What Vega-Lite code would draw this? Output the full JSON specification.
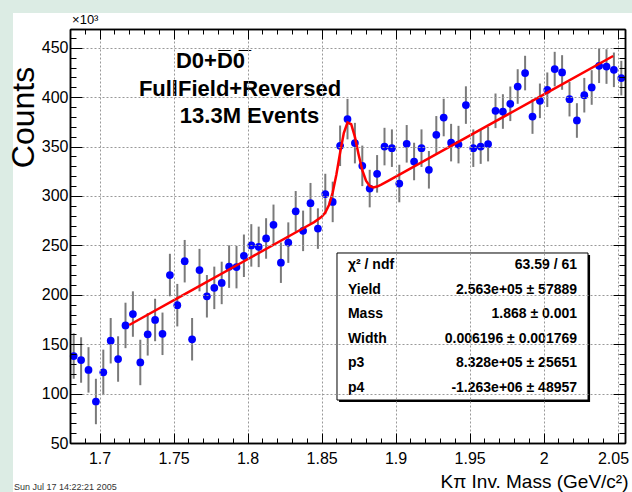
{
  "$schema": "https://vega.github.io/schema/vega-lite/v6.json",
  "width": 555,
  "height": 414,
  "autosize": {"type": "none"},
  "padding": {"left": 70, "top": 29, "right": 7, "bottom": 49},
  "background": "#dcece4",
  "config": {"font": "Liberation Sans", "view": {"stroke": null}},
  "resolve": {"axis": {"x": "independent", "y": "independent"}},
  "datasets": {
    "hist": [
      {"m":1.6825,"v":138,"lo":115,"hi":161},
      {"m":1.6875,"v":134,"lo":111,"hi":157},
      {"m":1.6925,"v":124,"lo":101,"hi":147},
      {"m":1.6975,"v":92,"lo":69,"hi":115},
      {"m":1.7025,"v":121.5,"lo":98.5,"hi":144.5},
      {"m":1.7075,"v":153.5,"lo":130.5,"hi":176.5},
      {"m":1.7125,"v":135,"lo":112,"hi":158},
      {"m":1.7175,"v":169,"lo":146,"hi":192},
      {"m":1.7225,"v":180.5,"lo":157.5,"hi":203.5},
      {"m":1.7275,"v":131.5,"lo":108.5,"hi":154.5},
      {"m":1.7325,"v":160,"lo":138.5,"hi":181.5},
      {"m":1.7375,"v":174.5,"lo":153,"hi":196},
      {"m":1.7425,"v":160.5,"lo":139,"hi":182},
      {"m":1.7475,"v":220,"lo":198.5,"hi":241.5},
      {"m":1.7525,"v":189.5,"lo":168,"hi":211},
      {"m":1.7575,"v":234,"lo":212.5,"hi":255.5},
      {"m":1.7625,"v":155,"lo":133.5,"hi":176.5},
      {"m":1.7675,"v":225,"lo":203.5,"hi":246.5},
      {"m":1.7725,"v":198.5,"lo":177,"hi":220},
      {"m":1.7775,"v":207,"lo":185.5,"hi":228.5},
      {"m":1.7825,"v":212,"lo":190.5,"hi":233.5},
      {"m":1.7875,"v":228.5,"lo":207,"hi":250},
      {"m":1.7925,"v":228,"lo":206.5,"hi":249.5},
      {"m":1.7975,"v":239.5,"lo":218,"hi":261},
      {"m":1.8025,"v":250,"lo":228.5,"hi":271.5},
      {"m":1.8075,"v":248.5,"lo":228,"hi":269},
      {"m":1.8125,"v":257,"lo":236.5,"hi":277.5},
      {"m":1.8175,"v":270.8,"lo":250.3,"hi":291.3},
      {"m":1.8225,"v":232.5,"lo":212,"hi":253},
      {"m":1.8275,"v":252.8,"lo":232.3,"hi":273.3},
      {"m":1.8325,"v":284.5,"lo":264,"hi":305},
      {"m":1.8375,"v":264.7,"lo":244.2,"hi":285.2},
      {"m":1.8425,"v":292.7,"lo":272.2,"hi":313.2},
      {"m":1.8475,"v":267,"lo":246.5,"hi":287.5},
      {"m":1.8525,"v":302,"lo":281.5,"hi":322.5},
      {"m":1.8575,"v":294,"lo":273.5,"hi":314.5},
      {"m":1.8625,"v":350.8,"lo":330.3,"hi":371.3},
      {"m":1.8675,"v":377.8,"lo":357.3,"hi":398.3},
      {"m":1.8725,"v":353.5,"lo":333,"hi":374},
      {"m":1.8775,"v":330.5,"lo":310,"hi":351},
      {"m":1.8825,"v":307.5,"lo":288.5,"hi":326.5},
      {"m":1.8875,"v":322.4,"lo":303.4,"hi":341.4},
      {"m":1.8925,"v":350,"lo":331,"hi":369},
      {"m":1.8975,"v":348.4,"lo":329.4,"hi":367.4},
      {"m":1.9025,"v":312.6,"lo":293.6,"hi":331.6},
      {"m":1.9075,"v":352.8,"lo":333.8,"hi":371.8},
      {"m":1.9125,"v":334.9,"lo":315.9,"hi":353.9},
      {"m":1.9175,"v":348.4,"lo":329.4,"hi":367.4},
      {"m":1.9225,"v":326.5,"lo":307.5,"hi":345.5},
      {"m":1.9275,"v":361.9,"lo":342.9,"hi":380.9},
      {"m":1.9325,"v":379.4,"lo":360.4,"hi":398.4},
      {"m":1.9375,"v":354,"lo":335,"hi":373},
      {"m":1.9425,"v":352,"lo":333,"hi":371},
      {"m":1.9475,"v":392,"lo":373,"hi":411},
      {"m":1.9525,"v":348.4,"lo":329.4,"hi":367.4},
      {"m":1.9575,"v":350,"lo":332.5,"hi":367.5},
      {"m":1.9625,"v":352.5,"lo":335,"hi":370},
      {"m":1.9675,"v":386.2,"lo":368.7,"hi":403.7},
      {"m":1.9725,"v":385.5,"lo":368,"hi":403},
      {"m":1.9775,"v":393.3,"lo":375.8,"hi":410.8},
      {"m":1.9825,"v":410.8,"lo":393.3,"hi":428.3},
      {"m":1.9875,"v":424.4,"lo":406.9,"hi":441.9},
      {"m":1.9925,"v":380.4,"lo":362.9,"hi":397.9},
      {"m":1.9975,"v":396.3,"lo":378.8,"hi":413.8},
      {"m":2.0025,"v":407.5,"lo":390,"hi":425},
      {"m":2.0075,"v":428.4,"lo":410.9,"hi":445.9},
      {"m":2.0125,"v":425,"lo":407.5,"hi":442.5},
      {"m":2.0175,"v":398,"lo":380.5,"hi":415.5},
      {"m":2.0225,"v":376.4,"lo":358.9,"hi":393.9},
      {"m":2.0275,"v":402,"lo":384.5,"hi":419.5},
      {"m":2.0325,"v":409.8,"lo":392.3,"hi":427.3},
      {"m":2.0375,"v":431.8,"lo":414.3,"hi":449.3},
      {"m":2.0425,"v":431,"lo":413.5,"hi":448.5},
      {"m":2.0475,"v":427.7,"lo":410.2,"hi":445.2},
      {"m":2.0525,"v":419.3,"lo":401.8,"hi":436.8}
    ],
    "fit": [
      {"m":1.72,"f":169.4},
      {"m":1.76,"f":202.7},
      {"m":1.80,"f":236.0},
      {"m":1.84,"f":269.4},
      {"m":1.845,"f":273.6},
      {"m":1.85,"f":278.9},
      {"m":1.8525,"f":283.3},
      {"m":1.855,"f":290.9},
      {"m":1.8575,"f":303.5},
      {"m":1.86,"f":321.8},
      {"m":1.8625,"f":343.7},
      {"m":1.865,"f":363.6},
      {"m":1.8675,"f":374.4},
      {"m":1.87,"f":372.6},
      {"m":1.8725,"f":359.8},
      {"m":1.875,"f":342.1},
      {"m":1.8775,"f":326.1},
      {"m":1.88,"f":315.4},
      {"m":1.8825,"f":310.1},
      {"m":1.885,"f":308.7},
      {"m":1.8875,"f":309.5},
      {"m":1.89,"f":311.2},
      {"m":1.895,"f":315.2},
      {"m":1.95,"f":361.0},
      {"m":2.0,"f":402.6},
      {"m":2.047,"f":441.7}
    ]
  },
  "layer": [
    {
      "data": {"values": [{}]},
      "mark": {"type": "rect", "fill": "white", "clip": false},
      "encoding": {
        "x": {"datum": 1.6415, "type": "quantitative",
          "scale": {"domain": [1.68, 2.055], "nice": false, "zero": false},
          "axis": {"orient": "bottom", "zindex": 1,
            "values": [1.7, 1.75, 1.8, 1.85, 1.9, 1.95, 2.0, 2.05],
            "format": ".2~f", "labelFlush": false,
            "tickSize": -10, "tickColor": "black", "tickWidth": 1,
            "labelPadding": 17, "labelFontSize": 16, "labelColor": "black", "labelFont": "Liberation Sans",
            "labelAlign": {"condition": {"test": "datum.value > 2.04", "value": "right"}, "value": "center"},
            "labelOffset": {"condition": {"test": "datum.value > 2.04", "value": 11}, "value": 0},
            "grid": true, "gridDash": [2, 2], "gridColor": "#999999", "gridWidth": 1,
            "domainColor": "black", "domainWidth": 1.5,
            "title": "K\u03c0 Inv. Mass (GeV/c\u00b2)", "titleFontSize": 19, "titleFontWeight": "normal",
            "titleColor": "black", "titleFont": "Liberation Sans",
            "titleAnchor": "end", "titleAlign": "right", "titleBaseline": "alphabetic",
            "titleX": 558, "titleY": 44}},
        "x2": {"datum": 2.0597},
        "y": {"datum": 485.2, "type": "quantitative",
          "scale": {"domain": [50, 469], "nice": false, "zero": false},
          "axis": {"orient": "left", "zindex": 1,
            "values": [50, 100, 150, 200, 250, 300, 350, 400, 450],
            "tickSize": -12, "tickColor": "black", "tickWidth": 1,
            "labelPadding": 14, "labelFontSize": 16, "labelColor": "black", "labelFont": "Liberation Sans",
            "grid": true, "gridDash": [2, 2], "gridColor": "#999999", "gridWidth": 1,
            "domainColor": "black", "domainWidth": 1.5,
            "title": "Counts", "titleFontSize": 32, "titleFontWeight": "normal",
            "titleColor": "black", "titleFont": "Liberation Sans",
            "titleAngle": -90, "titleAlign": "center", "titleBaseline": "alphabetic",
            "titleX": -37, "titleY": 88}},
        "y2": {"datum": 0.41}
      }
    },
    {
      "data": {"name": "hist"},
      "mark": {"type": "rule", "color": "#7a7a7a", "strokeWidth": 2},
      "encoding": {
        "x": {"field": "m", "type": "quantitative",
          "scale": {"domain": [1.68, 2.055], "nice": false, "zero": false},
          "axis": {"orient": "bottom", "zindex": 1,
            "values": [1.68,1.69,1.70,1.71,1.72,1.73,1.74,1.75,1.76,1.77,1.78,1.79,1.80,1.81,1.82,1.83,1.84,1.85,1.86,1.87,1.88,1.89,1.90,1.91,1.92,1.93,1.94,1.95,1.96,1.97,1.98,1.99,2.00,2.01,2.02,2.03,2.04,2.05],
            "tickSize": -5, "tickColor": "black", "labels": false, "grid": false,
            "domainColor": "black", "domainWidth": 1.5, "title": null}},
        "y": {"field": "lo", "type": "quantitative",
          "scale": {"domain": [50, 469], "nice": false, "zero": false},
          "axis": {"orient": "left", "zindex": 1,
            "values": [60,70,80,90,110,120,130,140,160,170,180,190,210,220,230,240,260,270,280,290,310,320,330,340,360,370,380,390,410,420,430,440,460],
            "tickSize": -6, "tickColor": "black", "labels": false, "grid": false,
            "domainColor": "black", "domainWidth": 1.5, "title": null}},
        "y2": {"field": "hi"}
      }
    },
    {
      "data": {"name": "hist"},
      "mark": {"type": "circle", "color": "#0000ff", "opacity": 1, "size": 60},
      "encoding": {
        "x": {"field": "m", "type": "quantitative",
          "scale": {"domain": [1.68, 2.055], "nice": false, "zero": false},
          "axis": {"orient": "top", "zindex": 1,
            "values": [1.7, 1.75, 1.8, 1.85, 1.9, 1.95, 2.0, 2.05],
            "tickSize": -10, "tickColor": "black", "labels": false, "grid": false,
            "domainColor": "black", "domainWidth": 1.5, "title": null}},
        "y": {"field": "v", "type": "quantitative",
          "scale": {"domain": [50, 469], "nice": false, "zero": false},
          "axis": {"orient": "right", "zindex": 1,
            "values": [50, 100, 150, 200, 250, 300, 350, 400, 450],
            "tickSize": -12, "tickColor": "black", "labels": false, "grid": false,
            "domainColor": "black", "domainWidth": 1.5, "title": null}}
      }
    },
    {
      "data": {"name": "fit"},
      "mark": {"type": "line", "color": "#ff0000", "strokeWidth": 2.5},
      "encoding": {
        "x": {"field": "m", "type": "quantitative",
          "scale": {"domain": [1.68, 2.055], "nice": false, "zero": false},
          "axis": {"orient": "top", "zindex": 1,
            "values": [1.68,1.69,1.70,1.71,1.72,1.73,1.74,1.75,1.76,1.77,1.78,1.79,1.80,1.81,1.82,1.83,1.84,1.85,1.86,1.87,1.88,1.89,1.90,1.91,1.92,1.93,1.94,1.95,1.96,1.97,1.98,1.99,2.00,2.01,2.02,2.03,2.04,2.05],
            "tickSize": -5, "tickColor": "black", "labels": false, "grid": false,
            "domainColor": "black", "domainWidth": 1.5, "title": null}},
        "y": {"field": "f", "type": "quantitative",
          "scale": {"domain": [50, 469], "nice": false, "zero": false},
          "axis": {"orient": "right", "zindex": 1,
            "values": [60,70,80,90,110,120,130,140,160,170,180,190,210,220,230,240,260,270,280,290,310,320,330,340,360,370,380,390,410,420,430,440,460],
            "tickSize": -6, "tickColor": "black", "labels": false, "grid": false,
            "domainColor": "black", "domainWidth": 1.5, "title": null}}
      }
    },
    {
      "data": {"values": [{}]},
      "mark": {"type": "rect", "fill": "black", "clip": false},
      "encoding": {
        "x": {"datum": 1.8618, "type": "quantitative", "scale": {"domain": [1.68, 2.055], "nice": false, "zero": false}, "axis": null},
        "x2": {"datum": 2.0314},
        "y": {"datum": 240.3, "type": "quantitative", "scale": {"domain": [50, 469], "nice": false, "zero": false}, "axis": null},
        "y2": {"datum": 91.5}
      }
    },
    {
      "data": {"values": [{}]},
      "mark": {"type": "rect", "fill": "white", "stroke": "black", "strokeWidth": 1, "clip": false},
      "encoding": {
        "x": {"datum": 1.8604, "type": "quantitative", "scale": {"domain": [1.68, 2.055], "nice": false, "zero": false}, "axis": null},
        "x2": {"datum": 2.03},
        "y": {"datum": 242.3, "type": "quantitative", "scale": {"domain": [50, 469], "nice": false, "zero": false}, "axis": null},
        "y2": {"datum": 93.5}
      }
    },
    {
      "data": {"values": [{}]},
      "mark": {"type": "text", "text": ["\u03c7\u00b2 / ndf", "Yield", "Mass", "Width", "p3", "p4"],
        "align": "left", "baseline": "middle", "lineHeight": 24.5,
        "font": "Liberation Sans", "fontSize": 14, "fontWeight": "bold", "color": "black"},
      "encoding": {
        "x": {"datum": 1.8678, "type": "quantitative", "scale": {"domain": [1.68, 2.055], "nice": false, "zero": false}, "axis": null},
        "y": {"datum": 229.8, "type": "quantitative", "scale": {"domain": [50, 469], "nice": false, "zero": false}, "axis": null}
      }
    },
    {
      "data": {"values": [{}]},
      "mark": {"type": "text", "text": ["63.59 / 61", "2.563e+05 \u00b1 57889", "1.868 \u00b1 0.001", "0.006196 \u00b1 0.001769", "8.328e+05 \u00b1 25651", "-1.263e+06 \u00b1 48957"],
        "align": "right", "baseline": "middle", "lineHeight": 24.5,
        "font": "Liberation Sans", "fontSize": 14, "fontWeight": "bold", "color": "black"},
      "encoding": {
        "x": {"datum": 2.0226, "type": "quantitative", "scale": {"domain": [1.68, 2.055], "nice": false, "zero": false}, "axis": null},
        "y": {"datum": 229.8, "type": "quantitative", "scale": {"domain": [50, 469], "nice": false, "zero": false}, "axis": null}
      }
    },
    {
      "data": {"values": [{}]},
      "mark": {"type": "text", "text": "D0+D\u03050\u0305", "align": "center", "baseline": "middle",
        "font": "Liberation Sans", "fontSize": 22, "fontWeight": "bold", "color": "black"},
      "encoding": {
        "x": {"datum": 1.7749, "type": "quantitative", "scale": {"domain": [1.68, 2.055], "nice": false, "zero": false}, "axis": null},
        "y": {"datum": 436.6, "type": "quantitative", "scale": {"domain": [50, 469], "nice": false, "zero": false}, "axis": null}
      }
    },
    {
      "data": {"values": [{}]},
      "mark": {"type": "text", "text": "FullField+Reversed", "align": "center", "baseline": "middle",
        "font": "Liberation Sans", "fontSize": 22, "fontWeight": "bold", "color": "black"},
      "encoding": {
        "x": {"datum": 1.7949, "type": "quantitative", "scale": {"domain": [1.68, 2.055], "nice": false, "zero": false}, "axis": null},
        "y": {"datum": 407.8, "type": "quantitative", "scale": {"domain": [50, 469], "nice": false, "zero": false}, "axis": null}
      }
    },
    {
      "data": {"values": [{}]},
      "mark": {"type": "text", "text": "13.3M Events", "align": "center", "baseline": "middle",
        "font": "Liberation Sans", "fontSize": 22, "fontWeight": "bold", "color": "black"},
      "encoding": {
        "x": {"datum": 1.8013, "type": "quantitative", "scale": {"domain": [1.68, 2.055], "nice": false, "zero": false}, "axis": null},
        "y": {"datum": 380.9, "type": "quantitative", "scale": {"domain": [50, 469], "nice": false, "zero": false}, "axis": null}
      }
    },
    {
      "data": {"values": [{}]},
      "mark": {"type": "text", "text": "\u00d710\u00b3", "align": "left", "baseline": "middle", "clip": false,
        "font": "Liberation Sans", "fontSize": 13, "color": "black"},
      "encoding": {
        "x": {"datum": 1.6814, "type": "quantitative", "scale": {"domain": [1.68, 2.055], "nice": false, "zero": false}, "axis": null},
        "y": {"datum": 478.1, "type": "quantitative", "scale": {"domain": [50, 469], "nice": false, "zero": false}, "axis": null}
      }
    },
    {
      "data": {"values": [{}]},
      "mark": {"type": "text", "text": "Sun Jul 17 14:22:21 2005", "align": "left", "baseline": "middle", "clip": false,
        "font": "Liberation Sans", "fontSize": 9, "color": "#333333"},
      "encoding": {
        "x": {"datum": 1.6422, "type": "quantitative", "scale": {"domain": [1.68, 2.055], "nice": false, "zero": false}, "axis": null},
        "y": {"datum": 5.47, "type": "quantitative", "scale": {"domain": [50, 469], "nice": false, "zero": false}, "axis": null}
      }
    }
  ]
}
